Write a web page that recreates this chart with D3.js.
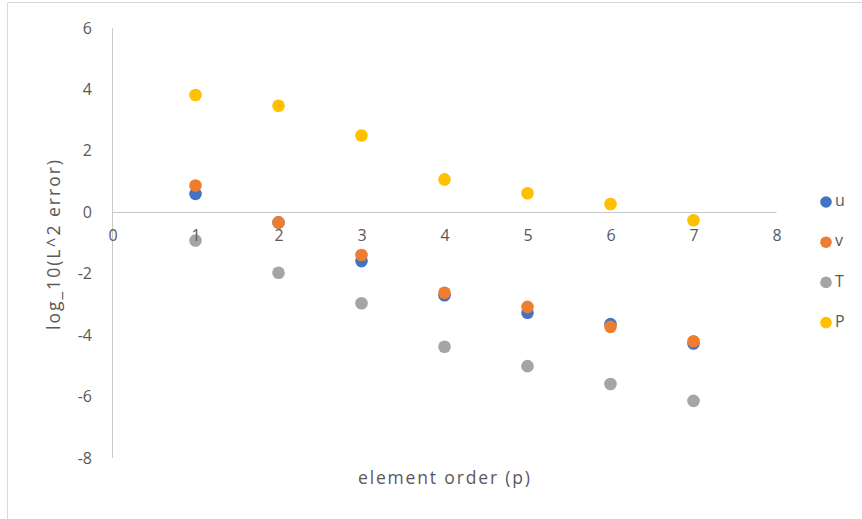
<!DOCTYPE html>
<html>
<head>
<meta charset="utf-8">
<script src="https://cdn.jsdelivr.net/npm/d3@7"></script>
<style>
  html, body { margin: 0; padding: 0; background: #fff; }
  svg { display: block; }
  text { font-family: "Open Sans", "Segoe UI", sans-serif; fill: #595959; }
</style>
</head>
<body>
<svg id="chart" width="862" height="519"></svg>
<script>
// element order p
const orders = [1, 2, 3, 4, 5, 6, 7];

// log10 of the L2 error per field
const uErr = [0.60, -0.33, -1.59, -2.70, -3.27, -3.64, -4.27];
const vErr = [0.87, -0.33, -1.39, -2.62, -3.08, -3.73, -4.20];
const TErr = [-0.92, -1.97, -2.96, -4.38, -5.01, -5.59, -6.14];
const PErr = [3.82, 3.47, 2.50, 1.07, 0.62, 0.27, -0.26];

const seriesNames = ["u", "v", "T", "P"];
const seriesColors = ["#4472C4", "#ED7D31", "#A5A5A5", "#FFC000"];
const seriesValues = [uErr, vErr, TErr, PErr];

const xTicks = [0, 1, 2, 3, 4, 5, 6, 7, 8];
const yTicks = [6, 4, 2, 0, -2, -4, -6, -8];

const xTitle = "element order (p)";
const yTitle = "log_10(L^2 error)";

const svg = d3.select("#chart");

// chart frame
svg.append("path")
  .attr("d", "M7.5,519 V2.5 H862")
  .attr("fill", "none")
  .attr("stroke", "#d9d9d9")
  .attr("stroke-width", 1);

const x = d3.scaleLinear().domain([0, 8]).range([112.5, 776.5]);
const y = d3.scaleLinear().domain([-8, 6]).range([458, 28]);

// axis lines: vertical at x=0, horizontal at y=0
svg.append("line")
  .attr("x1", x(0)).attr("x2", x(0))
  .attr("y1", y(6)).attr("y2", y(-8))
  .attr("stroke", "#c8c8c8").attr("stroke-width", 1);
svg.append("line")
  .attr("x1", x(0)).attr("x2", x(8))
  .attr("y1", Math.round(y(0)) + 0.5).attr("y2", Math.round(y(0)) + 0.5)
  .attr("stroke", "#c8c8c8").attr("stroke-width", 1);

// series markers
const points = [];
seriesValues.forEach((vals, si) => {
  vals.forEach((v, i) => points.push({ s: si, p: orders[i], v: v }));
});
svg.append("g").selectAll("circle")
  .data(points)
  .join("circle")
  .attr("cx", d => x(d.p))
  .attr("cy", d => y(d.v))
  .attr("r", 6.3)
  .attr("fill", d => seriesColors[d.s]);

// tick labels (plain hyphen for negatives)
const fmt = d => String(d);
const yAxis = d3.axisLeft(y).tickValues(yTicks).tickSize(0).tickPadding(0).tickFormat(fmt);
const gy = svg.append("g").attr("transform", "translate(92,0)").call(yAxis);
gy.select(".domain").remove();
gy.selectAll("text")
  .style("font-family", "\"Open Sans\", sans-serif")
  .style("font-size", "16px").attr("fill", "#595959");

const xAxis = d3.axisBottom(x).tickValues(xTicks).tickSize(0).tickPadding(0).tickFormat(fmt);
const gx = svg.append("g").attr("transform", "translate(0,230)").call(xAxis);
gx.select(".domain").remove();
gx.selectAll("text")
  .style("font-family", "\"Open Sans\", sans-serif")
  .style("font-size", "16px").attr("fill", "#595959");

// axis titles
svg.append("text")
  .attr("x", 444).attr("y", 479)
  .attr("text-anchor", "middle")
  .attr("dominant-baseline", "middle")
  .attr("textLength", 172)
  .attr("lengthAdjust", "spacing")
  .style("font-size", "17.5px")
  .text(xTitle);

svg.append("text")
  .attr("transform", "translate(55,245) rotate(-90)")
  .attr("text-anchor", "middle")
  .attr("dominant-baseline", "middle")
  .attr("textLength", 170)
  .attr("lengthAdjust", "spacing")
  .style("font-size", "17.5px")
  .text(yTitle);

// legend
const legend = svg.append("g").selectAll("g")
  .data(seriesNames)
  .join("g")
  .attr("transform", (d, i) => `translate(826,${202 + i * 40.2})`);
legend.append("circle")
  .attr("r", 5.8)
  .attr("fill", (d, i) => seriesColors[i]);
legend.append("text")
  .attr("x", 9).attr("y", 0)
  .attr("dominant-baseline", "middle")
  .style("font-size", "16px")
  .text(d => d);
</script>
</body>
</html>
